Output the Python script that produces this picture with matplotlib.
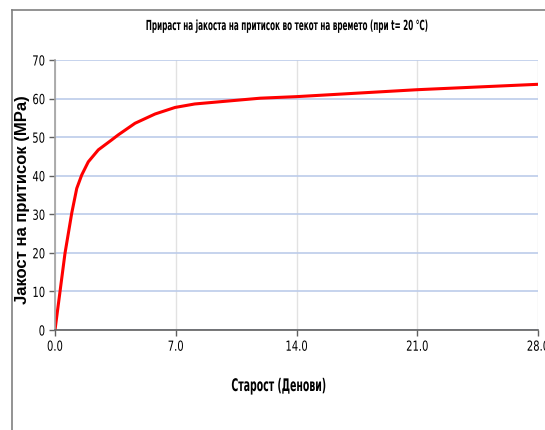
import matplotlib
matplotlib.use("Agg")
import matplotlib.pyplot as plt
from matplotlib.lines import Line2D
from matplotlib.patheffects import AbstractPathEffect
from matplotlib.transforms import Affine2D

# Values
days = [0.0, 0.58, 0.97, 1.26, 1.55, 1.93, 2.51, 3.29, 3.67, 4.64, 5.8, 6.96,
        8.1, 11.9, 14.0, 21.0, 28.0]
strength = [0.0, 19.9, 30.3, 36.7, 40.2, 43.6, 46.7, 49.3, 50.6, 53.6, 56.0, 57.7,
            58.6, 60.1, 60.5, 62.3, 63.7]

x_ticks = [0.0, 7.0, 14.0, 21.0, 28.0]
y_ticks = [0, 10, 20, 30, 40, 50, 60, 70]

title = "Прираст на јакоста на притисок во текот на времето (при t= 20 °C)"
x_label = "Старост (Денови)"
y_label = "Јакост на притисок (MPa)"


class Squeeze(AbstractPathEffect):
    """Narrow a text horizontally (the reference uses a narrow font)."""
    def __init__(self, sx, anchor="center"):
        super().__init__()
        self.sx = sx
        self.anchor = anchor

    def draw_path(self, renderer, gc, tpath, affine, rgbFace=None):
        ext = tpath.get_extents(affine)
        cx = ext.x1 if self.anchor == "right" else (ext.x0 + ext.x1) / 2
        squeeze = affine + Affine2D().translate(-cx, 0).scale(self.sx, 1).translate(cx, 0)
        renderer.draw_path(gc, tpath, squeeze, rgbFace)


plt.rcParams['font.family'] = ["DejaVu Sans"]
plt.rcParams['font.stretch'] = "condensed"

fig = plt.figure(figsize=(5.45, 4.3), dpi=100)
ax = fig.add_axes([55/545, 1 - 330/430, (538 - 55)/545, 270/430])

ax.plot(days, strength, color="#FF0000", linewidth=2.2, solid_capstyle="round")

ax.set_xlim(0, 28)
ax.set_ylim(0, 70)
ax.set_xticks(x_ticks)
ax.set_xticklabels(["%.1f" % t for t in x_ticks])
ax.set_yticks(y_ticks)

ax.yaxis.grid(True, color="#BCCCEA", linewidth=1.2)
ax.xaxis.grid(True, color="#E2E2E2", linewidth=1)
ax.set_axisbelow(True)

for side in ["top", "right"]:
    ax.spines[side].set_visible(False)
ax.spines["left"].set_color("#A0A0A0")
ax.spines["left"].set_linewidth(1.2)
ax.spines["bottom"].set_color("#606060")
ax.spines["bottom"].set_linewidth(1.2)
ax.tick_params(axis="both", length=4, width=1, color="#606060", labelsize=10, pad=3)
for lbl in ax.get_xticklabels():
    lbl.set_path_effects([Squeeze(0.8)])
for lbl in ax.get_yticklabels():
    lbl.set_path_effects([Squeeze(0.8, "right")])

t = fig.text(286/545, 1 - 26/430, title, ha="center", va="center", fontsize=10,
             fontweight="bold")
t.set_path_effects([Squeeze(0.58)])
xl = fig.text(279/545, 1 - 386/430, x_label, ha="center", va="center", fontsize=12.5,
              fontweight="bold")
xl.set_path_effects([Squeeze(0.6)])
fig.text(23/545, 1 - 200/430, y_label, ha="center", va="center", rotation=90,
         fontsize=12, fontweight="bold", family=["Liberation Sans", "DejaVu Sans"],
         fontstretch="normal")

# outer chart border (top and left are visible in the crop)
fig.add_artist(Line2D([12/545, 1], [1 - 10/430, 1 - 10/430], color="#808080", linewidth=1.2))
fig.add_artist(Line2D([12/545, 12/545], [0, 1 - 10/430], color="#808080", linewidth=1.2))

plt.savefig("out.png", dpi=100)
